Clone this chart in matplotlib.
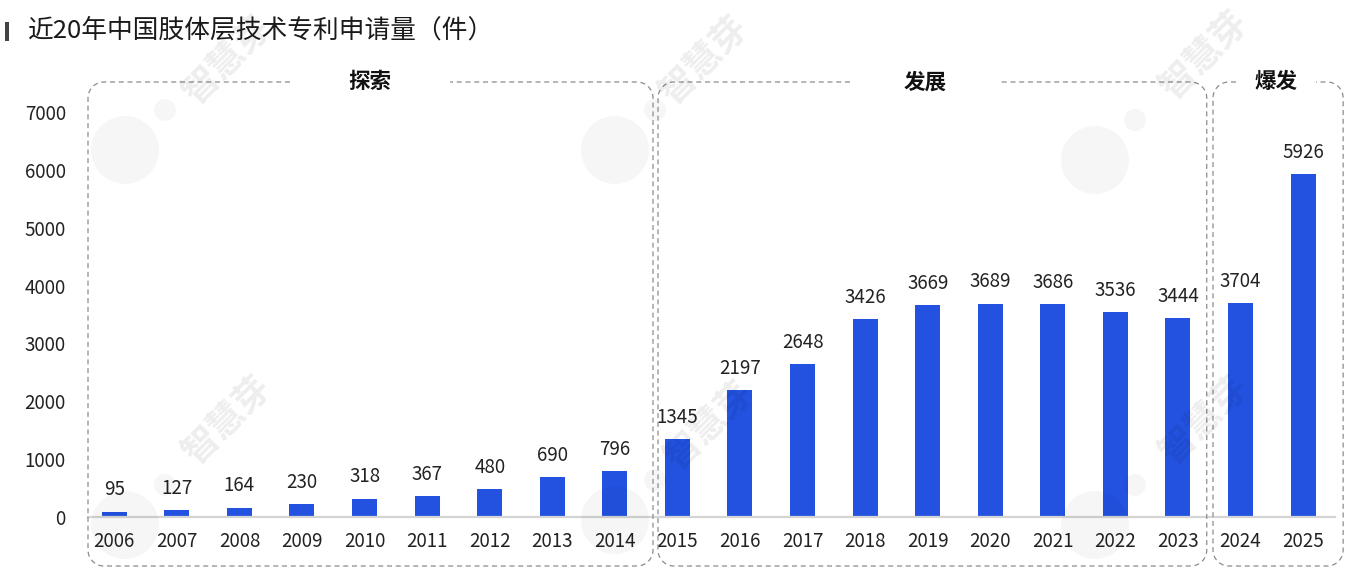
import numpy as np
import matplotlib
matplotlib.use("Agg")
import matplotlib.pyplot as plt
from matplotlib.transforms import IdentityTransform

plt.rcParams['font.family'] = ['Noto Sans CJK SC', 'DejaVu Sans']

# 数据
years = ['2006', '2007', '2008', '2009', '2010', '2011', '2012', '2013', '2014', '2015',
         '2016', '2017', '2018', '2019', '2020', '2021', '2022', '2023', '2024', '2025']
counts = [95, 127, 164, 230, 318, 367, 480, 690, 796, 1345,
          2197, 2648, 3426, 3669, 3689, 3686, 3536, 3444, 3704, 5926]
stages = ['探索', '发展', '爆发']
stage_bounds = [(-0.42, 8.61), (8.69, 17.46), (17.56, 19.64)]  # 框的左右边（x 数据坐标）
y_ticks = [0, 1000, 2000, 3000, 4000, 5000, 6000, 7000]

W, H = 1362, 576
fig = plt.figure(figsize=(W / 100, H / 100), dpi=100)
ax = fig.add_axes([88 / W, 1 - 517 / H, (1335 - 88) / W, (517 - 112) / H])

x = np.arange(len(years))
ax.bar(x, counts, width=0.4, color='#2352E1', zorder=3)
for xi, v in zip(x, counts):
    ax.annotate(str(v), (xi, v), xytext=(0, 8), textcoords='offset points',
                ha='center', va='bottom', fontsize=13.5, color='#222222')

ax.set_xlim(-0.42, 19.51)
ax.set_ylim(0, 7000)
ax.set_xticks(x)
ax.set_xticklabels(years, fontsize=13.5, color='#222222')
ax.set_yticks(y_ticks)
ax.set_yticklabels([str(t) for t in y_ticks], fontsize=13.5, color='#222222')
ax.tick_params(axis='x', length=0, pad=10)
ax.tick_params(axis='y', length=0, pad=16)
for s in ['top', 'right', 'left']:
    ax.spines[s].set_visible(False)
ax.spines['bottom'].set_color('#d4d4d4')
ax.spines['bottom'].set_linewidth(1.6)
ax.spines['bottom'].set_zorder(4)

# 水印
for wx, wy in [(228, 60), (705, 60), (1205, 55), (228, 420), (710, 425), (1205, 420)]:
    fig.text(wx / W, 1 - wy / H, '智慧芽', rotation=45, fontsize=26, color='#000000',
             alpha=0.07, ha='center', va='center', fontweight='bold')
for cx, cy in [(125, 150), (615, 150), (1095, 160), (125, 525), (615, 520), (1095, 525)]:
    fig.patches.append(plt.Circle((cx, H - cy), 34, transform=IdentityTransform(),
                                  color='#000000', alpha=0.035, lw=0))
    fig.patches.append(plt.Circle((cx + 40, H - cy + 40), 11, transform=IdentityTransform(),
                                  color='#000000', alpha=0.035, lw=0))

# 标题
fig.text(28 / W, 1 - 31 / H, '近20年中国肢体层技术专利申请量（件）', fontsize=18.5, color='#1a1a1a',
         ha='left', va='center', fontweight='medium')
fig.patches.append(plt.Rectangle((5 / W, 1 - 41 / H), 4 / W, 19 / H, transform=fig.transFigure,
                                 color='#444444', lw=0))

# 阶段虚线框（像素坐标）
fig.canvas.draw()
top_px, bot_px = H - 82, H - 566
rad = 16
label_x = [370, 925, 1276]
gap_half = [80, 75, 40]
t = np.linspace(0, np.pi / 2, 20)
for (left, right), name, lx, gh in zip(stage_bounds, stages, label_x, gap_half):
    xl = ax.transData.transform((left, 0))[0]
    xr = ax.transData.transform((right, 0))[0]
    pts = [(lx - gh, top_px), (xl + rad, top_px)]
    pts += list(zip(xl + rad - rad * np.sin(t), top_px - rad + rad * np.cos(t)))
    pts += [(xl, bot_px + rad)]
    pts += list(zip(xl + rad - rad * np.cos(t), bot_px + rad - rad * np.sin(t)))
    pts += [(xr - rad, bot_px)]
    pts += list(zip(xr - rad + rad * np.sin(t), bot_px + rad - rad * np.cos(t)))
    pts += [(xr, top_px - rad)]
    pts += list(zip(xr - rad + rad * np.cos(t), top_px - rad + rad * np.sin(t)))
    pts += [(lx + gh, top_px)]
    px, py = zip(*pts)
    fig.lines.append(plt.Line2D(px, py, transform=IdentityTransform(), color='#8c8c8c', lw=0.9,
                                linestyle=(0, (4, 3))))
    fig.text(lx / W, top_px / H, name, fontsize=15.5, fontweight='bold', color='#111111',
             ha='center', va='center')

fig.savefig('out.png', dpi=100)
